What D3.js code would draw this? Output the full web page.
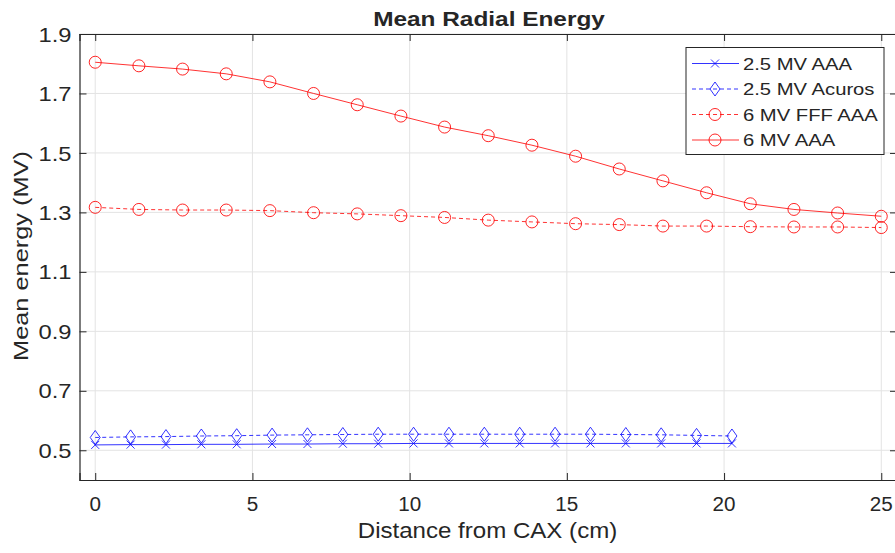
<!DOCTYPE html>
<html><head><meta charset="utf-8">
<script src="https://cdn.jsdelivr.net/npm/d3@7"></script>
<style>body{margin:0;background:#fff}svg{display:block}text{font-family:"Liberation Sans",Arial,sans-serif;fill:#262626}</style>
</head><body>
<svg id="c" width="895" height="553"></svg>
<script>
const xTicks = [0,5,10,15,20,25];
const yTicks = [0.5,0.7,0.9,1.1,1.3,1.5,1.7,1.9];
const x6 = d3.range(19).map(i => i*25/18);
const x25 = d3.range(19).map(i => i*1.125);
const aaa25 = [0.518,0.519,0.519,0.520,0.520,0.521,0.521,0.522,0.522,0.523,0.523,0.523,0.523,0.523,0.523,0.523,0.523,0.523,0.523];
const acuros25 = [0.543,0.545,0.546,0.548,0.549,0.551,0.552,0.553,0.554,0.554,0.554,0.554,0.554,0.554,0.554,0.553,0.552,0.550,0.548];
const fff6 = [1.317,1.310,1.308,1.308,1.306,1.299,1.295,1.289,1.283,1.274,1.268,1.262,1.259,1.254,1.254,1.252,1.251,1.251,1.249];
const aaa6 = [1.805,1.793,1.782,1.766,1.739,1.700,1.662,1.624,1.587,1.558,1.526,1.489,1.446,1.406,1.366,1.329,1.310,1.298,1.287];
const seriesNames = ["2.5 MV AAA","2.5 MV Acuros","6 MV FFF AAA","6 MV AAA"];

const series = [
  {name:seriesNames[0], xs:x25, ys:aaa25, color:"#0000ff", dash:null, marker:"x"},
  {name:seriesNames[1], xs:x25, ys:acuros25, color:"#0000ff", dash:"4,3", marker:"diamond"},
  {name:seriesNames[2], xs:x6, ys:fff6, color:"#ff0000", dash:"4,3", marker:"circle"},
  {name:seriesNames[3], xs:x6, ys:aaa6, color:"#ff0000", dash:null, marker:"circle"}
];

const svg = d3.select("#c");
const L=79.5, R=897, T=34, B=480;
const x = d3.scaleLinear().domain([-0.5,25.5]).range([L,R]);
const y = d3.scaleLinear().domain([0.4,1.9]).range([B,T]);
const ax = "#262626";

function stext(parent, tx, ty, sx, size, anchor, str, opts={}){
  const t = parent.append("text")
    .attr("transform",`translate(${tx},${ty})${opts.rot?` rotate(${opts.rot})`:""} scale(${sx},1)`)
    .attr("text-anchor",anchor).attr("font-size",size+"px").text(str);
  if(opts.bold) t.attr("font-weight","bold");
  if(opts.fill) t.attr("fill",opts.fill);
  if(opts.dy) t.attr("dy",opts.dy);
  return t;
}

// grid
const g = svg.append("g");
g.selectAll(".gx").data(xTicks).join("line").attr("x1",d=>x(d)).attr("x2",d=>x(d)).attr("y1",T).attr("y2",B).attr("stroke","#e3e3e3").attr("stroke-width",1);
g.selectAll(".gy").data(yTicks).join("line").attr("y1",d=>y(d)).attr("y2",d=>y(d)).attr("x1",L).attr("x2",R).attr("stroke","#e3e3e3").attr("stroke-width",1);

// axes with inward ticks
const xb = svg.append("g").attr("transform",`translate(0,${B})`).call(d3.axisBottom(x).tickValues(xTicks).tickSize(-7).tickFormat(""));
const xt = svg.append("g").attr("transform",`translate(0,${T})`).call(d3.axisTop(x).tickValues(xTicks).tickSize(-7).tickFormat(""));
const yl = svg.append("g").attr("transform",`translate(${L},0)`).call(d3.axisLeft(y).tickValues(yTicks).tickSize(-7).tickFormat(""));
const yr = svg.append("g").attr("transform",`translate(${R},0)`).call(d3.axisRight(y).tickValues(yTicks).tickSize(-7).tickFormat(""));
[xb,xt,yl,yr].forEach(a=>{a.selectAll("path").attr("stroke",ax).attr("stroke-width",1.2);a.selectAll("line").attr("stroke",ax);});

// tick labels
const tl = svg.append("g");
xTicks.forEach(v=>stext(tl, x(v), 511, 1.06, 19.5, "middle", d3.format("d")(v)));
yTicks.forEach(v=>stext(tl, 71.5, y(v), 1.13, 21, "end", d3.format(".1f")(v), {dy:"0.36em"}));

// series
function drawMarker(sel, type, color){
  if(type==="circle") sel.append("circle").attr("r",6).attr("fill","none").attr("stroke",color).attr("stroke-width",1).attr("stroke-opacity",0.85);
  else if(type==="diamond") sel.append("path").attr("d","M0,-7L5,0L0,7L-5,0Z").attr("fill","none").attr("stroke",color).attr("stroke-width",1).attr("stroke-opacity",0.8);
  else sel.append("path").attr("d","M-4,-4L4,4M-4,4L4,-4").attr("fill","none").attr("stroke",color).attr("stroke-width",1).attr("stroke-opacity",0.8);
}
const line = d3.line().x(d=>x(d[0])).y(d=>y(d[1]));
series.forEach(s=>{
  const pts = s.xs.map((v,i)=>[v,s.ys[i]]);
  svg.append("path").attr("d",line(pts)).attr("fill","none").attr("stroke",s.color).attr("stroke-width",1).attr("stroke-opacity",0.8).attr("stroke-dasharray",s.dash);
  pts.forEach(p=>{
    const m = svg.append("g").attr("transform",`translate(${x(p[0])},${y(p[1])})`);
    drawMarker(m,s.marker,s.color);
  });
});

// title & labels
stext(svg, 489, 26, 1.22, 20, "middle", "Mean Radial Energy", {bold:true, fill:"#000"});
stext(svg, 487.5, 538, 1.07, 22.5, "middle", "Distance from CAX (cm)");
stext(svg, 27.5, 256, 1.3, 19.5, "middle", "Mean energy (MV)", {rot:-90});

// legend
const lg = svg.append("g");
lg.append("rect").attr("x",686).attr("y",47.5).attr("width",198).attr("height",107).attr("fill","#fff").attr("stroke",ax).attr("stroke-width",1);
series.forEach((s,i)=>{
  const yy = 63.5 + i*25.5;
  lg.append("line").attr("x1",692).attr("x2",739).attr("y1",yy).attr("y2",yy).attr("stroke",s.color).attr("stroke-width",1).attr("stroke-opacity",0.8).attr("stroke-dasharray",s.dash);
  drawMarker(lg.append("g").attr("transform",`translate(715,${yy})`), s.marker, s.color);
  stext(lg, 743, yy, 1.19, 17, "start", s.name, {fill:"#000", dy:"0.36em"});
});
</script>
</body></html>
